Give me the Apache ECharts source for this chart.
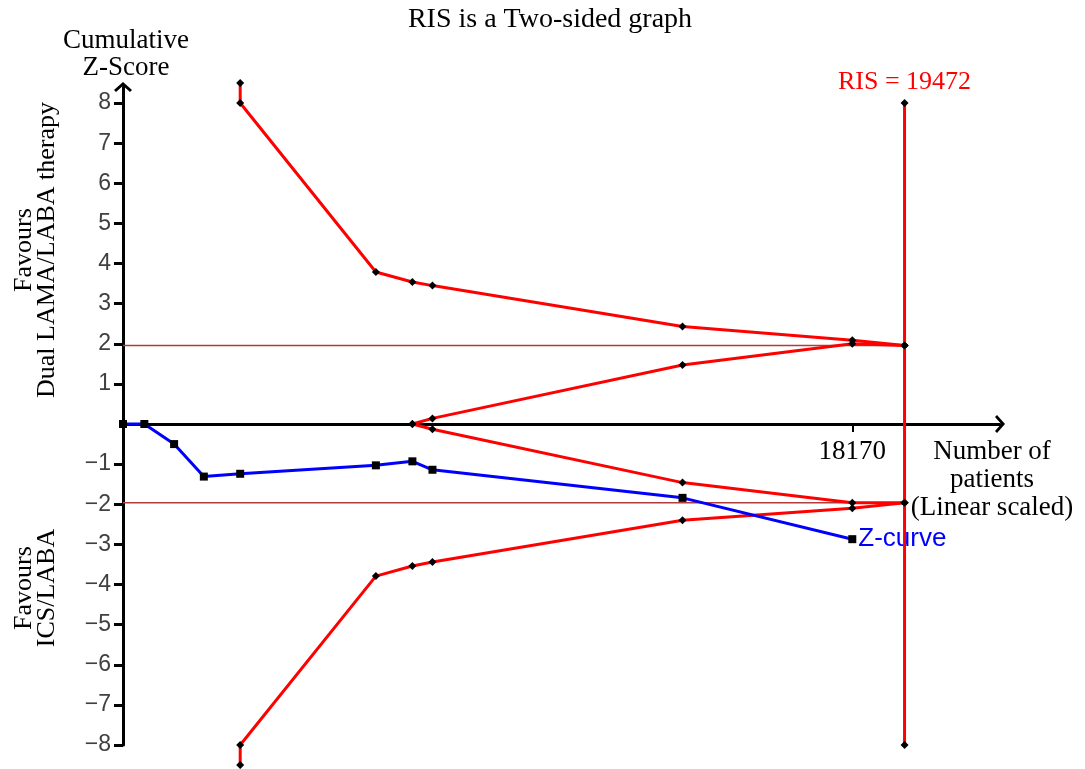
<!DOCTYPE html>
<html>
<head>
<meta charset="utf-8">
<script src="https://cdn.jsdelivr.net/npm/echarts@6/dist/echarts.min.js"></script>
<style>
  html, body { margin: 0; padding: 0; background: #fff; }
  #chart { width: 1085px; height: 769px; }
</style>
</head>
<body>
<div id="chart"></div>
<script>
// Trial sequential analysis: cumulative Z-curve against monitoring boundaries
const RIS = 19472;
const xTickValues = [18170];
const yTickValues = [-8, -7, -6, -5, -4, -3, -2, -1, 1, 2, 3, 4, 5, 6, 7, 8];
const conventionalZ = [1.96, -1.96];

// Cumulative Z-curve (number of patients, Z-score)
const zPatients = [0, 532, 1273, 2014, 2920, 6300, 7210, 7710, 13940, 18170];
const zScores   = [0, 0, -0.50, -1.31, -1.24, -1.03, -0.93, -1.14, -1.84, -2.87];

// Trial sequential monitoring boundaries (benefit / harm)
const boundPatients = [2920, 2920, 6300, 7210, 7710, 13940, 18170, RIS];
const upperBound    = [8.5, 8.0, 3.79, 3.54, 3.45, 2.43, 2.09, 1.96];
const lowerBound    = [-8.5, -8.0, -3.79, -3.54, -3.44, -2.40, -2.10, -1.96];

// Inner wedge (futility) boundaries
const futPatients = [7210, 7710, 13940, 18170, RIS];
const upperFut    = [0, 0.14, 1.47, 2.00, 1.96];
const lowerFut    = [0, -0.13, -1.46, -1.96, -1.96];

// Required information size line
const risZ = [8, 1.96, -1.96, -8];

const zip = (xs, ys) => xs.map((x, i) => [x, ys[i]]);

const SERIF = '"Liberation Serif", "Times New Roman", serif';
const SANS = '"Liberation Sans", Arial, sans-serif';
const RED = '#ff0000';

// open chevron arrow head for the axis ends (points up before rotation)
const chevron = 'path://M0,8 L9,0 L18,8 L16,10 L9,3.8 L2,10 Z';

const boundSeries = (name, data) => ({
  name, type: 'line', data, clip: false, z: 3,
  lineStyle: { color: RED, width: 3 },
  symbol: 'diamond', symbolSize: 8,
  itemStyle: { color: '#000' },
  emphasis: { disabled: true }
});

const chart = echarts.init(document.getElementById('chart'), null, { renderer: 'canvas' });

chart.setOption({
  animation: false,
  backgroundColor: '#fff',
  grid: { left: 123, right: 85, top: 87, bottom: 24, outerBoundsMode: 'none', containLabel: false },
  xAxis: {
    type: 'value', min: 0, max: 21850,
    splitLine: { show: false },
    axisLine: {
      onZero: true,
      lineStyle: { color: '#000', width: 3 },
      symbol: ['none', chevron], symbolSize: [18, 10], symbolOffset: [0, 0]
    },
    axisTick: { show: true, customValues: xTickValues, length: 8, inside: false,
                lineStyle: { color: '#000', width: 2 } },
    axisLabel: { show: false }
  },
  yAxis: {
    type: 'value', min: -8, max: 8.4,
    splitLine: { show: false },
    axisLine: {
      onZero: false,
      lineStyle: { color: '#000', width: 3 },
      symbol: ['none', chevron], symbolSize: [18, 10]
    },
    axisTick: { show: true, customValues: yTickValues, length: 9,
                lineStyle: { color: '#000', width: 3 } },
    axisLabel: { show: true, customValues: yTickValues, margin: 12,
                 fontFamily: SANS, fontSize: 23, color: '#404040',
                 formatter: v => String(v).replace('-', '\u2212') }
  },
  series: [
    // conventional 5% significance thresholds
    ...conventionalZ.map((z, i) => ({
      name: 'conventional' + i, type: 'line', z: 1,
      data: [[0, z], [RIS, z]], symbol: 'none',
      lineStyle: { color: '#b03c3c', width: 1.5 },
      emphasis: { disabled: true }
    })),
    // tick label on the patient axis, which sits at Z = 0
    {
      name: 'xTickLabel', type: 'scatter', z: 2, silent: true,
      data: xTickValues.map(v => [v, 0]),
      symbolSize: 0,
      itemStyle: { opacity: 1 },
      label: { show: true, position: 'bottom', distance: 14, opacity: 1,
               formatter: p => String(p.value[0]),
               fontFamily: SERIF, fontSize: 27, color: '#000' }
    },
    boundSeries('upperBound', zip(boundPatients, upperBound)),
    boundSeries('lowerBound', zip(boundPatients, lowerBound)),
    boundSeries('upperFut', zip(futPatients, upperFut)),
    boundSeries('lowerFut', zip(futPatients, lowerFut)),
    {
      name: 'Z-curve', type: 'line', z: 4, clip: false,
      data: zip(zPatients, zScores),
      lineStyle: { color: '#0000ff', width: 3 },
      symbol: 'rect', symbolSize: 8,
      itemStyle: { color: '#000' },
      endLabel: { show: true, formatter: 'Z-curve', color: '#0000ff',
                  fontFamily: SANS, fontSize: 26, distance: 6 },
      emphasis: { disabled: true }
    },
    {
      name: 'RIS', type: 'line', z: 5, clip: false,
      data: risZ.map((z, i) => ({
        value: [RIS, z],
        label: i === 0 ? { show: true, position: 'top', distance: 4,
                           formatter: 'RIS = ' + RIS, color: RED,
                           fontFamily: SERIF, fontSize: 26 } : { show: false }
      })),
      lineStyle: { color: RED, width: 3 },
      symbol: 'diamond', symbolSize: 8,
      itemStyle: { color: '#000' },
      emphasis: { disabled: true }
    }
  ],
  graphic: [
    { type: 'text', x: 550, y: 20,
      style: { text: 'RIS is a Two-sided graph', font: '28px ' + SERIF, fill: '#000',
               textAlign: 'center', textVerticalAlign: 'middle' } },
    { type: 'text', x: 126, y: 54,
      style: { text: 'Cumulative\nZ-Score', font: '27px ' + SERIF, fill: '#000',
               lineHeight: 27, textAlign: 'center', textVerticalAlign: 'middle' } },
    { type: 'text', x: 992, y: 480,
      style: { text: 'Number of\npatients\n(Linear scaled)', font: '27px ' + SERIF, fill: '#000',
               lineHeight: 28, textAlign: 'center', textVerticalAlign: 'middle' } },
    { type: 'text', x: 36, y: 250, rotation: Math.PI / 2,
      style: { text: 'Favours\nDual LAMA/LABA therapy', font: '26px ' + SERIF, fill: '#000',
               lineHeight: 23, textAlign: 'center', textVerticalAlign: 'middle' } },
    { type: 'text', x: 36, y: 588, rotation: Math.PI / 2,
      style: { text: 'Favours\nICS/LABA', font: '26px ' + SERIF, fill: '#000',
               lineHeight: 23, textAlign: 'center', textVerticalAlign: 'middle' } }
  ]
});
</script>
</body>
</html>
